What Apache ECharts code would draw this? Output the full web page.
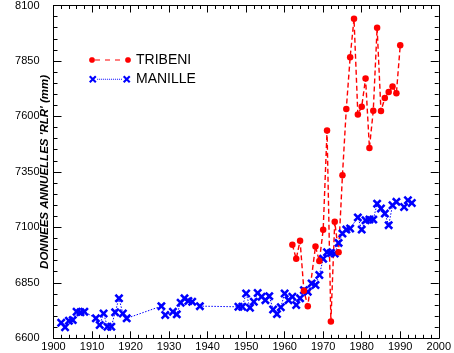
<!DOCTYPE html>
<html>
<head>
<meta charset="utf-8">
<script src="https://cdn.jsdelivr.net/npm/echarts@6/dist/echarts.min.js"></script>
<style>
  html, body { margin: 0; padding: 0; background: #fff; }
  #chart { width: 454px; height: 353px; }
</style>
</head>
<body>
<div id="chart"></div>
<script>
// Annual sea level series (mm, 'RLR' datum).
const tribeniYears = [1962, 1963, 1964, 1965, 1966, 1968, 1969, 1970, 1971, 1972, 1973, 1974, 1975,
  1976, 1977, 1978, 1979, 1980, 1981, 1982, 1983, 1984, 1985, 1986, 1987, 1988, 1989, 1990];
const tribeniValues = [7022, 6958, 7040, 6814, 6745, 7014, 6948, 7089, 7537, 6676, 7125, 6988, 7335,
  7634, 7867, 8040, 7609, 7644, 7771, 7458, 7626, 8000, 7624, 7683, 7710, 7735, 7704, 7921];

const manilleYears = [1902, 1903, 1904, 1905, 1906, 1907, 1908, 1911, 1912, 1913, 1914, 1915, 1916,
  1917, 1918, 1919, 1928, 1929, 1931, 1932, 1933, 1934, 1935, 1936, 1938, 1948, 1949, 1950, 1951,
  1952, 1953, 1954, 1955, 1956, 1957, 1958, 1959, 1960, 1961, 1962, 1963, 1964, 1965, 1966, 1967,
  1968, 1969, 1970, 1971, 1972, 1973, 1974, 1975, 1976, 1977, 1979, 1980, 1981, 1982, 1983, 1984,
  1985, 1986, 1987, 1988, 1989, 1991, 1992, 1993];
const manilleValues = [6670, 6650, 6679, 6682, 6720, 6717, 6720, 6690, 6660, 6712, 6652, 6652, 6717,
  6780, 6712, 6690, 6745, 6705, 6720, 6708, 6760, 6780, 6768, 6765, 6745, 6742, 6742, 6802, 6738,
  6765, 6804, 6787, 6772, 6790, 6730, 6709, 6740, 6802, 6772, 6787, 6750, 6780, 6817, 6810, 6847,
  6840, 6885, 6958, 6988, 6985, 6982, 7030, 7072, 7090, 7095, 7145, 7090, 7132, 7135, 7135, 7207,
  7185, 7162, 7110, 7200, 7215, 7192, 7222, 7210];

const xTicks = { min: 1900, max: 2000, step: 10 };
const yTicks = { min: 6600, max: 8100, step: 250 };

const RED = '#ff0000';
const BLUE = '#0000ff';
const SANS = "'Liberation Sans', Arial, sans-serif";

const pairs = (xs, ys) => xs.map((x, i) => [x, ys[i]]);

// X-shaped marker as a filled path (ECharts has no built-in cross symbol).
function crossPath(cx, cy, h, t) {
  const p = [[cx - h, cy - h + t], [cx - h + t, cy - h], [cx, cy - t], [cx + h - t, cy - h], [cx + h, cy - h + t],
    [cx + t, cy], [cx + h, cy + h - t], [cx + h - t, cy + h], [cx, cy + t], [cx - h + t, cy + h],
    [cx - h, cy + h - t], [cx - t, cy]];
  return 'M' + p.map((q) => q[0].toFixed(2) + ',' + q[1].toFixed(2)).join(' L') + ' Z';
}
function dotPath(cx, cy, r) {
  const k = r * 0.45;
  const p = [[cx - k, cy - r], [cx + k, cy - r], [cx + r, cy - k], [cx + r, cy + k], [cx + k, cy + r],
    [cx - k, cy + r], [cx - r, cy + k], [cx - r, cy - k]];
  return 'M' + p.map((q) => q[0].toFixed(2) + ',' + q[1].toFixed(2)).join(' L') + ' Z';
}
const rect = (x0, y0, x1, y1) => `M${x0},${y0} L${x1},${y0} L${x1},${y1} L${x0},${y1} Z`;
// pin the icon's bounding box to 0..42 x 0..8 so both legend rows line up
const PIN = 'M0,0 L0.01,0 Z M42,8 L41.99,8 Z ';

let tribIcon = PIN + dotPath(3, 4, 2.8) + ' ' + dotPath(39, 4, 2.8);
[[6, 11], [16, 21], [26, 31]].forEach(([a, b]) => { tribIcon += ' ' + rect(a, 3.4, b, 4.6); });
let manIcon = PIN + crossPath(3.6, 4, 3.8, 1.5) + ' ' + crossPath(37.7, 4, 3.8, 1.5);
for (let x = 8; x < 33; x += 2) manIcon += ' ' + rect(x, 3.5, x + 1, 4.5);

const crossSymbol = 'path://' + crossPath(5, 5, 5, 2);

const axisLine = { show: true, onZero: false, lineStyle: { color: '#000', width: 1 } };
const plain = (v) => String(v);

function xAxis(pos, labels) {
  return {
    type: 'value', position: pos, min: xTicks.min, max: xTicks.max, interval: xTicks.step,
    axisLine, splitLine: { show: false },
    axisTick: { inside: true, length: 7, lineStyle: { color: '#000' } },
    minorTick: { show: true, splitNumber: 5, length: 3.5, lineStyle: { color: '#000' } },
    axisLabel: { show: labels, margin: 3, color: '#000', fontSize: 11, fontFamily: SANS, formatter: plain },
  };
}
function yAxis(pos, labels) {
  return {
    type: 'value', position: pos, min: yTicks.min, max: yTicks.max, interval: yTicks.step,
    axisLine, splitLine: { show: false },
    axisTick: { inside: true, length: 8, lineStyle: { color: '#000' } },
    minorTick: { show: true, splitNumber: 5, length: 4, lineStyle: { color: '#000' } },
    axisLabel: { show: labels, margin: 14, color: '#000', fontSize: 11, fontFamily: SANS, formatter: plain },
    name: labels ? "DONNEES ANNUELLES 'RLR' (mm)" : '',
    nameLocation: 'middle', nameRotate: 90, nameGap: 3, nameMoveOverlap: false,
    nameTextStyle: { color: '#000', fontSize: 11.5, fontStyle: 'italic', fontWeight: 'bold', fontFamily: SANS },
  };
}

const chart = echarts.init(document.getElementById('chart'), null, { renderer: 'canvas', width: 454, height: 353 });
chart.setOption({
  animation: false,
  backgroundColor: '#fff',
  grid: { left: 53.5, right: 12.3, top: 5, bottom: 14.7, containLabel: false },
  xAxis: [xAxis('bottom', true), xAxis('top', false)],
  yAxis: [yAxis('left', true), yAxis('right', false)],
  legend: {
    orient: 'vertical', left: 89, top: 52, padding: 0, itemGap: 3.3,
    itemWidth: 42, itemHeight: 8,
    textStyle: { color: '#000', fontSize: 14, fontFamily: SANS, lineHeight: 16 },
    itemStyle: { borderWidth: 0 },
    data: [
      { name: 'TRIBENI', icon: 'path://' + tribIcon },
      { name: 'MANILLE', icon: 'path://' + manIcon },
    ],
  },
  series: [
    {
      name: 'MANILLE', type: 'line', data: pairs(manilleYears, manilleValues),
      symbol: crossSymbol, symbolSize: 9, showAllSymbol: true,
      itemStyle: { color: BLUE, borderWidth: 0 },
      lineStyle: { color: BLUE, width: 1, type: [1.5, 1.5] },
    },
    {
      name: 'TRIBENI', type: 'line', data: pairs(tribeniYears, tribeniValues),
      symbol: 'circle', symbolSize: 6.5, showAllSymbol: true,
      itemStyle: { color: RED, borderWidth: 0 },
      lineStyle: { color: RED, width: 1.4, type: [5, 3] },
    },
  ],
});
</script>
</body>
</html>
